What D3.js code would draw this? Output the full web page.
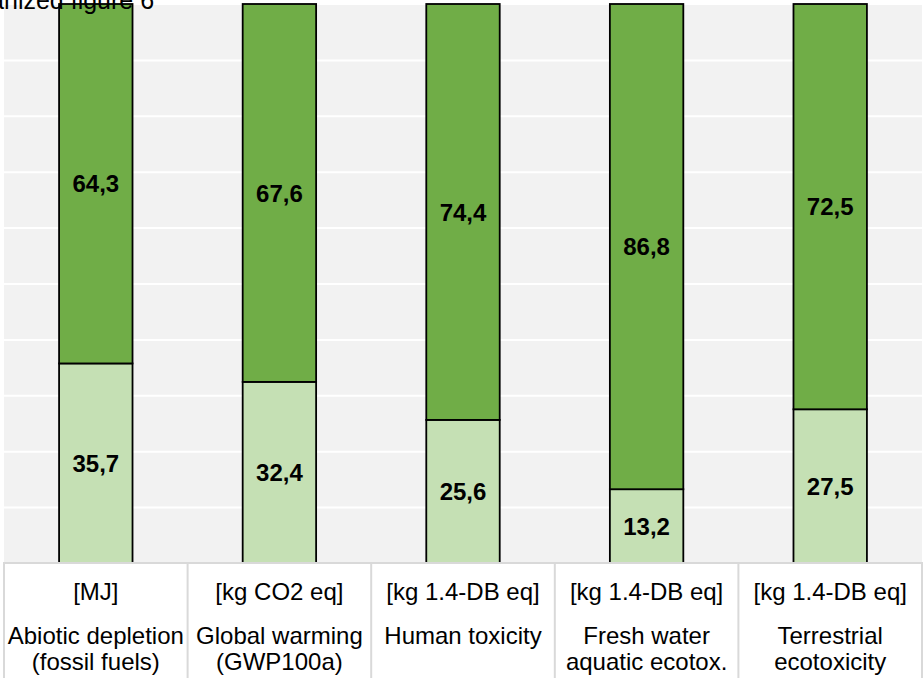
<!DOCTYPE html>
<html>
<head>
<meta charset="utf-8">
<script src="https://cdn.jsdelivr.net/npm/d3@7"></script>
<style>
  html, body { margin: 0; padding: 0; background: #ffffff; overflow: hidden; }
  svg { display: block; font-family: "Liberation Sans", Arial, sans-serif; }
</style>
</head>
<body>
<svg id="chart" width="924" height="678"></svg>
<script>
// ---- data ----
const title = "Organized figure 6";
const titleHiddenPrefix = "Orga"; // part of the title cropped off the left edge
const categories = ["Abiotic depletion", "Global warming", "Human toxicity", "Fresh water aquatic ecotox.", "Terrestrial ecotoxicity"];
const categoryLines = [
  ["Abiotic depletion", "(fossil fuels)"],
  ["Global warming", "(GWP100a)"],
  ["Human toxicity"],
  ["Fresh water", "aquatic ecotox."],
  ["Terrestrial", "ecotoxicity"]
];
const units = ["[MJ]", "[kg CO2 eq]", "[kg 1.4-DB eq]", "[kg 1.4-DB eq]", "[kg 1.4-DB eq]"];
const lowerValues = [35.7, 32.4, 25.6, 13.2, 27.5];
const upperValues = [64.3, 67.6, 74.4, 86.8, 72.5];
const yTicks = [0, 10, 20, 30, 40, 50, 60, 70, 80, 90, 100];
const seriesNames = ["lower", "upper"];
const seriesColors = ["#c5e0b4", "#70ad47"];

// ---- layout ----
const svg = d3.select("#chart");
const plotLeft = 4, plotRight = 922, plotTop = 4, plotBottom = 563;
const tableBottom = 678;

const x = d3.scaleBand().domain(categories).range([plotLeft, plotRight])
  .paddingInner(0.6).paddingOuter(0.3);
const y = d3.scaleLinear().domain([0, 100]).range([plotBottom, plotTop]);
const color = d3.scaleOrdinal().domain(seriesNames).range(seriesColors);

const locale = d3.formatLocale({decimal: ",", thousands: ".", grouping: [3], currency: ["", "€"]});
const fmt = locale.format(".1f");

// plot background
svg.append("rect")
  .attr("x", plotLeft).attr("y", y(100) + 1)
  .attr("width", plotRight - plotLeft).attr("height", plotBottom - y(100) - 1)
  .attr("fill", "#f2f2f2");

// gridlines
const yAxis = d3.axisLeft(y).tickValues(yTicks).tickSize(-(plotRight - plotLeft)).tickFormat("");
const g = svg.append("g").attr("transform", `translate(${plotLeft},0)`).call(yAxis);
g.select(".domain").remove();
g.selectAll(".tick line").attr("stroke", "#ffffff").attr("stroke-width", 2);
g.selectAll(".tick").filter(d => d === 0 || d === 100).remove();

// stacked data
const rows = categories.map((c, i) => ({cat: c, lower: lowerValues[i], upper: upperValues[i]}));
const stack = d3.stack().keys(seriesNames)(rows);

const layers = svg.append("g").selectAll("g").data(stack).join("g")
  .attr("fill", d => color(d.key));

layers.selectAll("rect").data(d => d).join("rect")
  .attr("x", d => x(d.data.cat))
  .attr("y", d => y(d[1]))
  .attr("width", x.bandwidth())
  .attr("height", d => y(d[0]) - y(d[1]))
  .attr("stroke", "#000000")
  .attr("stroke-width", 1.8);

// value labels
const labels = svg.append("g");
stack.forEach(layer => {
  layer.forEach(d => {
    labels.append("text")
      .attr("x", x(d.data.cat) + x.bandwidth() / 2)
      .attr("y", (y(d[0]) + y(d[1])) / 2)
      .attr("dy", "0.36em")
      .attr("text-anchor", "middle")
      .attr("font-size", 24)
      .attr("font-weight", "bold")
      .attr("fill", "#000000")
      .text(fmt(d[1] - d[0]));
  });
});

// table below
const step = x.step();
const table = svg.append("g");
table.append("rect")
  .attr("x", plotLeft).attr("y", plotBottom)
  .attr("width", plotRight - plotLeft).attr("height", tableBottom - plotBottom + 5)
  .attr("fill", "#ffffff").attr("stroke", "#d9d9d9").attr("stroke-width", 2);

categories.forEach((c, i) => {
  const cx = x(c) + x.bandwidth() / 2;
  if (i > 0) {
    const xl = cx - step / 2;
    table.append("line")
      .attr("x1", xl).attr("x2", xl)
      .attr("y1", plotBottom).attr("y2", tableBottom)
      .attr("stroke", "#d9d9d9").attr("stroke-width", 2);
  }
  table.append("text")
    .attr("x", cx).attr("y", 600)
    .attr("text-anchor", "middle")
    .attr("font-size", 24)
    .attr("fill", "#000000")
    .text(units[i]);
  categoryLines[i].forEach((ln, j) => {
    table.append("text")
      .attr("x", cx).attr("y", 644 + j * 26)
      .attr("text-anchor", "middle")
      .attr("font-size", 24)
      .attr("fill", "#000000")
      .text(ln);
  });
});

// title (cropped at top-left, as in the reference)
const titleText = svg.append("text")
  .attr("x", 0).attr("y", 9)
  .attr("font-size", 25)
  .attr("fill", "#000000")
  .text(title);
const hidden = titleText.node().getSubStringLength(0, titleHiddenPrefix.length);
titleText.attr("x", 4 - hidden);
</script>
</body>
</html>
